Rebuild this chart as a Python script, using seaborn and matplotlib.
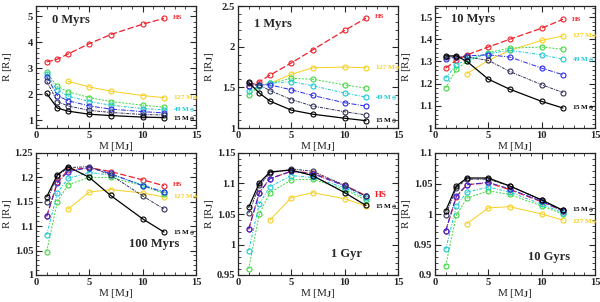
import numpy as np
import pandas as pd
import matplotlib
matplotlib.use("Agg")
import matplotlib.pyplot as plt
from matplotlib.ticker import AutoMinorLocator
import seaborn as sns

# =========================
# Data: radius R [R_J] vs mass M [M_J] for several core masses and ages
# =========================
mass = [1, 2, 3, 5, 7, 10, 12]
mass_127 = [3, 5, 7, 10, 12]   # 127 M_earth curve starts at 3 M_J

series_names = ["HS", "127", "95", "49", "31", "22", "15"]

ages = ["0 Myrs", "1 Myrs", "10 Myrs", "100 Myrs", "1 Gyr", "10 Gyrs"]

r_0myr = {
    "HS":  [3.25, 3.35, 3.55, 3.95, 4.30, 4.70, 4.92],
    "127": [2.50, 2.28, 2.12, 1.95, 1.87],
    "95":  [2.85, 2.30, 2.10, 1.87, 1.72, 1.58, 1.50],
    "49":  [2.78, 2.15, 1.93, 1.72, 1.58, 1.45, 1.40],
    "31":  [2.68, 1.95, 1.75, 1.55, 1.43, 1.33, 1.28],
    "22":  [2.50, 1.72, 1.55, 1.38, 1.30, 1.22, 1.20],
    "15":  [2.03, 1.47, 1.35, 1.23, 1.18, 1.12, 1.10],
}
r_1myr = {
    "HS":  [1.52, 1.57, 1.65, 1.80, 1.96, 2.20, 2.35],
    "127": [1.55, 1.66, 1.74, 1.75, 1.74],
    "95":  [1.40, 1.52, 1.55, 1.61, 1.60, 1.53, 1.49],
    "49":  [1.45, 1.52, 1.55, 1.57, 1.52, 1.43, 1.38],
    "31":  [1.52, 1.53, 1.53, 1.47, 1.40, 1.31, 1.27],
    "22":  [1.55, 1.53, 1.46, 1.35, 1.27, 1.20, 1.16],
    "15":  [1.56, 1.43, 1.33, 1.22, 1.17, 1.12, 1.09],
}
r_10myr = {
    "HS":  [1.27, 1.305, 1.33, 1.365, 1.40, 1.45, 1.49],
    "127": [1.245, 1.305, 1.35, 1.395, 1.415],
    "95":  [1.18, 1.265, 1.30, 1.34, 1.36, 1.365, 1.355],
    "49":  [1.225, 1.285, 1.31, 1.335, 1.35, 1.33, 1.31],
    "31":  [1.31, 1.32, 1.325, 1.33, 1.32, 1.27, 1.24],
    "22":  [1.32, 1.32, 1.32, 1.305, 1.255, 1.195, 1.16],
    "15":  [1.325, 1.325, 1.30, 1.22, 1.175, 1.12, 1.09],
}
r_100myr = {
    "HS":  [1.12, 1.19, 1.215, 1.22, 1.212, 1.195, 1.183],
    "127": [1.135, 1.17, 1.175, 1.168, 1.16],
    "95":  [1.048, 1.15, 1.185, 1.20, 1.20, 1.183, 1.167],
    "49":  [1.082, 1.168, 1.198, 1.21, 1.205, 1.185, 1.17],
    "31":  [1.12, 1.188, 1.212, 1.22, 1.208, 1.183, 1.17],
    "22":  [1.15, 1.203, 1.22, 1.222, 1.205, 1.162, 1.135],
    "15":  [1.16, 1.205, 1.222, 1.20, 1.163, 1.115, 1.088],
}
r_1gyr = {
    "HS":  [1.025, 1.085, 1.108, 1.12, 1.117, 1.097, 1.08],
    "127": [1.04, 1.077, 1.085, 1.075, 1.063],
    "95":  [0.96, 1.05, 1.085, 1.106, 1.107, 1.09, 1.073],
    "49":  [0.99, 1.067, 1.095, 1.113, 1.11, 1.093, 1.076],
    "31":  [1.025, 1.085, 1.108, 1.12, 1.116, 1.096, 1.079],
    "22":  [1.051, 1.097, 1.117, 1.124, 1.12, 1.097, 1.079],
    "15":  [1.061, 1.101, 1.119, 1.122, 1.113, 1.085, 1.064],
}
r_10gyr = {
    "HS":  [0.972, 1.028, 1.048, 1.051, 1.04, 1.02, 1.005],
    "127": [0.984, 1.01, 1.012, 1.0, 0.99],
    "95":  [0.915, 0.998, 1.026, 1.038, 1.032, 1.013, 1.0],
    "49":  [0.942, 1.013, 1.036, 1.044, 1.036, 1.016, 1.002],
    "31":  [0.972, 1.03, 1.048, 1.052, 1.041, 1.021, 1.005],
    "22":  [0.998, 1.043, 1.057, 1.057, 1.046, 1.023, 1.006],
    "15":  [1.005, 1.046, 1.059, 1.059, 1.046, 1.023, 1.006],
}
panel_data = [r_0myr, r_1myr, r_10myr, r_100myr, r_1gyr, r_10gyr]

ylims = [(0.7, 5.4), (1.0, 2.5), (1.0, 1.55), (1.0, 1.25), (0.95, 1.15), (0.9, 1.1)]
yticks = [[1, 2, 3, 4, 5], [1, 1.5, 2, 2.5], [1, 1.1, 1.2, 1.3, 1.4, 1.5],
          [1, 1.05, 1.1, 1.15, 1.2, 1.25], [0.95, 1, 1.05, 1.1, 1.15],
          [0.9, 0.95, 1, 1.05, 1.1]]

# which curves get a text label in each panel, with label y position
labels = [
    {"HS": 4.95, "127": 1.87, "49": 1.42, "15": 1.08},
    {"HS": 2.37, "127": 1.74, "49": 1.38, "15": 1.09},
    {"HS": 1.49, "127": 1.415, "49": 1.31, "15": 1.09},
    {"HS": 1.186, "127": 1.16, "15": 1.088},
    {"HS": 1.081, "15": 1.063},
    {"15": 1.008, "127": 0.988},
]
age_pos = [(1.5, 4.85), (1.5, 2.28), (1.5, 1.49), (8.7, 1.063), (8.7, 0.985), (8.7, 0.93)]

colors = {"HS": "#f0202a", "127": "#f7cf1c", "95": "#3ed83e", "49": "#18c8d0",
          "31": "#2a2ae8", "22": "#303058", "15": "#000000"}
styles = {"HS": (0, (5, 2)), "127": "-", "95": (0, (2, 1.5)), "49": (0, (3, 1.5, 1, 1.5)),
          "31": (0, (5, 1.5, 1, 1.5)), "22": (0, (3, 1, 1, 1)), "15": "-"}
label_text = {"HS": "HS", "127": r"127 M$_\oplus$", "49": r"49 M$_\oplus$", "15": r"15 M$_\oplus$"}

# =========================
# Plot
# =========================
sns.set_style("ticks")
plt.rcParams["font.family"] = ["Liberation Serif", "DejaVu Serif"]
plt.rcParams["font.weight"] = "bold"
plt.rcParams["mathtext.fontset"] = "custom"
plt.rcParams["mathtext.rm"] = "Liberation Serif:bold"
plt.rcParams["mathtext.it"] = "Liberation Serif:bold"
plt.rcParams["mathtext.fallback"] = "stix"

fig = plt.figure(figsize=(6.0, 3.02), dpi=100)
W, H = 600.0, 302.0
lefts = [36, 238, 435]
bottoms = [174, 27]   # pixels from bottom
aw, ah = 160, 122

for i, data in enumerate(panel_data):
    row, col = divmod(i, 3)
    ax = fig.add_axes([lefts[col] / W, bottoms[row] / H, aw / W, ah / H])
    for name in series_names:
        xs = mass_127 if name == "127" else mass
        c = colors[name]
        lw = 0.9 if name in ("15", "HS") else 0.7
        sns.lineplot(x=xs, y=data[name], ax=ax, color=c, linestyle=styles[name],
                     lw=lw, marker="o", markersize=3.6, markerfacecolor="none",
                     markeredgecolor=c, markeredgewidth=0.8, errorbar=None)
    for name, ly in labels[i].items():
        fs = 6.5 if (i == 4 and name == "HS") else 5.0
        ax.text(12.8, ly, label_text[name], color=colors[name], fontsize=fs,
                fontweight="bold", va="center", ha="left")
    ax.text(age_pos[i][0], age_pos[i][1], ages[i], fontsize=9, fontweight="bold",
            va="center", ha="left")

    ax.set_xlim(0, 15)
    ax.set_ylim(*ylims[i])
    ax.set_xticks([0, 5, 10, 15])
    ax.set_yticks(yticks[i])
    ax.set_yticklabels([f"{t:g}" for t in yticks[i]])
    ax.xaxis.set_minor_locator(AutoMinorLocator(5))
    ax.yaxis.set_minor_locator(AutoMinorLocator(5))
    ax.tick_params(which="both", direction="in", top=True, right=True, labelsize=7.6, pad=2)
    ax.tick_params(which="major", length=4, width=0.8)
    ax.tick_params(which="minor", length=2, width=0.6)
    for s in ax.spines.values():
        s.set_linewidth(0.9)
    ax.set_xlabel(r"M [M$_{\rm J}$]", fontsize=8, labelpad=0)
    ax.set_ylabel(r"R [R$_{\rm J}$]", fontsize=8)
    ax.yaxis.set_label_coords(-0.135, 0.5)

fig.savefig("out.png", dpi=100)
